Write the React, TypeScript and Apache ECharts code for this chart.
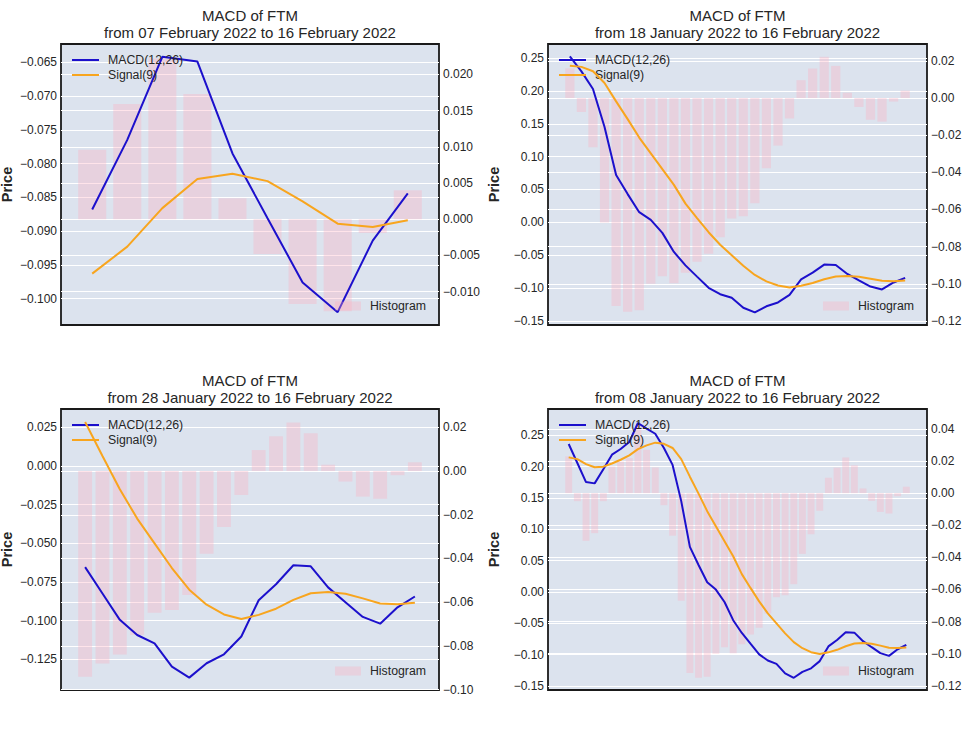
import React, { useEffect, useRef } from "react";
import * as echarts from "echarts";

// Daily MACD data for FTM, 08 Jan 2022 .. 16 Feb 2022 (40 days)
const macd = [
  0.2362, 0.2058, 0.1754, 0.1733, 0.196, 0.2191, 0.2282, 0.2393, 0.2697, 0.2607,
  0.2525, 0.2297, 0.2028, 0.145, 0.072, 0.043, 0.0155, 0.0038, -0.016, -0.045,
  -0.0654, -0.0825, -0.0995, -0.1093, -0.1147, -0.1298, -0.1369, -0.1276, -0.1218, -0.1103,
  -0.0868, -0.0765, -0.0642, -0.0649, -0.0785, -0.0881, -0.0976, -0.102, -0.0914, -0.0844,
];
const signal = [
  0.2148, 0.212, 0.204, 0.199, 0.2, 0.205, 0.211, 0.218, 0.228, 0.234,
  0.2383, 0.2365, 0.2298, 0.212, 0.184, 0.157, 0.129, 0.105, 0.081, 0.057,
  0.0285, 0.0065, -0.015, -0.034, -0.05, -0.066, -0.08, -0.0897, -0.096, -0.099,
  -0.0963, -0.0923, -0.0866, -0.0823, -0.0815, -0.0826, -0.0856, -0.0889, -0.0894, -0.0884,
];
const histogram = [
  0.0229, -0.005, -0.0297, -0.0249, -0.005, 0.0166, 0.0197, 0.0218, 0.043, 0.027,
  0.016, -0.0075, -0.0265, -0.067, -0.112, -0.115, -0.1143, -0.1, -0.096, -0.0997,
  -0.0941, -0.0881, -0.0839, -0.075, -0.0648, -0.0636, -0.0567, -0.0378, -0.0256, -0.011,
  0.0096, 0.0159, 0.0222, 0.0173, 0.0029, -0.0048, -0.0117, -0.0127, -0.0019, 0.004,
];

// panels: top-left, top-right, bottom-left, bottom-right
const panelStart = [30, 10, 20, 0];
const mainTitle = "MACD of FTM";
const panelSubtitles = [
  "from 07 February 2022 to 16 February 2022",
  "from 18 January 2022 to 16 February 2022",
  "from 28 January 2022 to 16 February 2022",
  "from 08 January 2022 to 16 February 2022",
];
const leftTicks = [
  [-0.1, -0.095, -0.09, -0.085, -0.08, -0.075, -0.07, -0.065],
  [-0.15, -0.1, -0.05, 0, 0.05, 0.1, 0.15, 0.2, 0.25],
  [-0.125, -0.1, -0.075, -0.05, -0.025, 0, 0.025],
  [-0.15, -0.1, -0.05, 0, 0.05, 0.1, 0.15, 0.2, 0.25],
];
const rightTicks = [
  [-0.01, -0.005, 0, 0.005, 0.01, 0.015, 0.02],
  [-0.12, -0.1, -0.08, -0.06, -0.04, -0.02, 0, 0.02],
  [-0.1, -0.08, -0.06, -0.04, -0.02, 0, 0.02],
  [-0.12, -0.1, -0.08, -0.06, -0.04, -0.02, 0, 0.02, 0.04],
];
const leftDecimals = [3, 2, 3, 2];
const rightDecimals = [3, 2, 2, 2];
const leftRange = [
  [-0.1039, -0.0623],
  [-0.1561, 0.2713],
  [-0.1449, 0.0369],
  [-0.1564, 0.292],
];
const rightRange = [
  [-0.0146, 0.0242],
  [-0.1222, 0.0291],
  [-0.1002, 0.0284],
  [-0.1226, 0.0524],
];

const grids = [
  { left: 61, top: 44, width: 378, height: 281 },
  { left: 548, top: 44, width: 379, height: 281 },
  { left: 61, top: 409, width: 378, height: 281 },
  { left: 548, top: 409, width: 379, height: 281 },
];

const FONT = '"Liberation Sans", Arial, Helvetica, sans-serif';
const TEXT = "#262626";
const MACD_COLOR = "#1c10cc";
const SIGNAL_COLOR = "#f8a51e";
const HIST_COLOR = "rgba(255,170,190,0.32)";

const fmt = (d: number) => (v: number) => {
  const a = Math.abs(v) < 1e-9 ? 0 : v;
  const s = Math.abs(a).toFixed(d);
  return a < 0 ? "\u2212" + s : s;
};

function buildOption() {
  const xAxis: any[] = [];
  const yAxis: any[] = [];
  const series: any[] = [];
  const legend: any[] = [];
  const graphic: any[] = [];

  grids.forEach((g, i) => {
    const start = panelStart[i];
    const m = macd.slice(start);
    const s = signal.slice(start);
    const h = histogram.slice(start);
    const n = m.length;
    const pad = 0.05 * (n - 0.2);
    xAxis.push({
      type: "value",
      gridIndex: i,
      min: -0.4 - pad,
      max: n - 0.6 + pad,
      show: false,
    });
    const yBase = {
      type: "value",
      gridIndex: i,
      axisLine: { show: false },
      splitLine: { show: true, lineStyle: { color: "#ffffff", width: 1.1 } },
    };
    yAxis.push({
      ...yBase,
      position: "left",
      min: leftRange[i][0],
      max: leftRange[i][1],
      axisTick: { show: false, customValues: leftTicks[i] },
      axisLabel: {
        customValues: leftTicks[i],
        formatter: fmt(leftDecimals[i]),
        color: TEXT,
        fontSize: 12,
        fontFamily: FONT,
        margin: 4,
      },
    });
    yAxis.push({
      ...yBase,
      position: "right",
      min: rightRange[i][0],
      max: rightRange[i][1],
      axisTick: { show: false, customValues: rightTicks[i] },
      axisLabel: {
        customValues: rightTicks[i],
        formatter: fmt(rightDecimals[i]),
        color: TEXT,
        fontSize: 12,
        fontFamily: FONT,
        margin: 4,
      },
    });
    series.push({
      type: "bar",
      name: "Histogram",
      xAxisIndex: i,
      yAxisIndex: 2 * i + 1,
      data: h.map((v, k) => [k, v]),
      barWidth: "80%",
      itemStyle: { color: HIST_COLOR },
      z: 2,
    });
    series.push({
      type: "line",
      name: "MACD(12,26)",
      xAxisIndex: i,
      yAxisIndex: 2 * i,
      data: m.map((v, k) => [k, v]),
      symbol: "none",
      showSymbol: false,
      lineStyle: { color: MACD_COLOR, width: 2 },
      itemStyle: { color: MACD_COLOR },
      z: 3,
    });
    series.push({
      type: "line",
      name: "Signal(9)",
      xAxisIndex: i,
      yAxisIndex: 2 * i,
      data: s.map((v, k) => [k, v]),
      symbol: "none",
      showSymbol: false,
      lineStyle: { color: SIGNAL_COLOR, width: 2 },
      itemStyle: { color: SIGNAL_COLOR },
      z: 4,
    });
    const legendText = {
      fontSize: 12.3,
      color: TEXT,
      fontFamily: FONT,
      padding: [0, 0, 0, 4],
    };
    legend.push({
      orient: "vertical",
      left: g.left + 11,
      top: g.top + 10,
      padding: 0,
      itemWidth: 27,
      itemHeight: 2,
      itemGap: 3,
      selectedMode: false,
      data: [
        { name: "MACD(12,26)", icon: "rect" },
        { name: "Signal(9)", icon: "rect" },
      ],
      textStyle: legendText,
    });
    legend.push({
      orient: "vertical",
      right: 975 - (g.left + g.width - 13),
      top: g.top + g.height - 25,
      padding: 0,
      itemWidth: 26,
      itemHeight: 9,
      selectedMode: false,
      data: [{ name: "Histogram", icon: "rect" }],
      textStyle: legendText,
    });
    const cx = g.left + g.width / 2;
    const titleTop = g.top - 29;
    graphic.push({
      type: "text",
      x: cx,
      y: titleTop,
      style: {
        text: mainTitle,
        align: "center",
        verticalAlign: "middle",
        fontSize: 15,
        fontFamily: FONT,
        fill: TEXT,
      },
    });
    graphic.push({
      type: "text",
      x: cx,
      y: titleTop + 17.3,
      style: {
        text: panelSubtitles[i],
        align: "center",
        verticalAlign: "middle",
        fontSize: 15,
        fontFamily: FONT,
        fill: TEXT,
      },
    });
    graphic.push({
      type: "text",
      x: g.left - 54,
      y: g.top + g.height / 2,
      rotation: Math.PI / 2,
      style: {
        text: "Price",
        align: "center",
        verticalAlign: "middle",
        fontSize: 14.5,
        fontWeight: "bold",
        fontFamily: FONT,
        fill: TEXT,
      },
    });
  });

  return {
    animation: false,
    backgroundColor: "#ffffff",
    grid: grids.map((g) => ({
      ...g,
      show: true,
      backgroundColor: "#dce3ee",
      borderColor: "#1a1a1a",
      borderWidth: 1.8,
      containLabel: false,
      outerBoundsMode: "none",
    })),
    xAxis,
    yAxis,
    legend,
    series,
    graphic,
  };
}

export default function App() {
  const ref = useRef<HTMLDivElement>(null);
  useEffect(() => {
    if (!ref.current) return;
    const chart = echarts.init(ref.current, null, { renderer: "svg" });
    chart.setOption(buildOption() as any);
    return () => chart.dispose();
  }, []);
  return (
    <div
      ref={ref}
      style={{ position: "absolute", left: 0, top: 0, width: 975, height: 731 }}
    />
  );
}
